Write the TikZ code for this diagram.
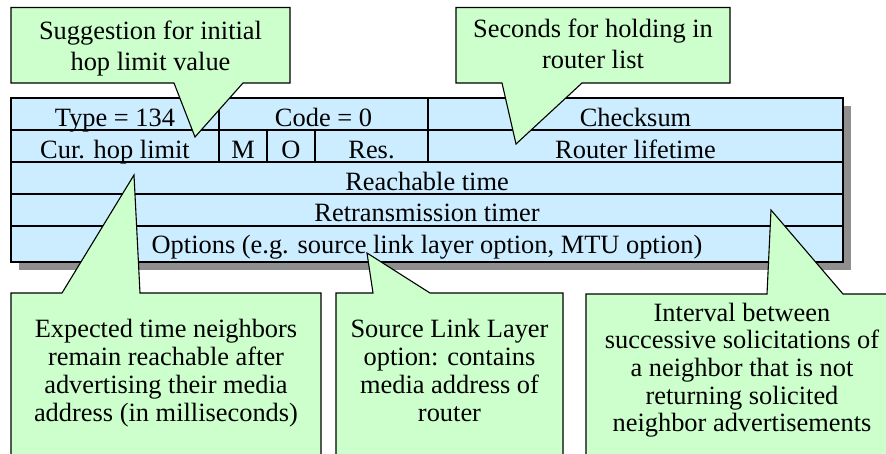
\documentclass[tikz,border=0pt]{standalone}
\usepackage{fontspec}
\setmainfont{Liberation Serif}
\definecolor{cellblue}{RGB}{204,236,255}
\definecolor{callgreen}{RGB}{204,255,204}
\definecolor{shadowgray}{RGB}{143,143,143}
\tikzset{
  cell/.style={fill=cellblue, draw=black, line width=1.1pt},
  callout/.style={fill=callgreen, draw=black, line width=1.1pt, line join=miter},
  celltext/.style={anchor=base, inner sep=0pt, font=\fontsize{26.4}{28}\selectfont},
  calltext/.style={anchor=north, inner sep=0pt, align=center},
}
\begin{document}
\begin{tikzpicture}[x=1pt,y=-1pt]
\useasboundingbox (0,0) rectangle (886,453);
\clip (0,0) rectangle (886,453);
% shadow
\fill[shadowgray] (19,106) rectangle (851,270);
% table
\draw[cell] (11,98) rectangle (843,262);
\draw[line width=1.1pt] (11,130) -- (843,130);
\draw[line width=1.1pt] (11,162) -- (843,162);
\draw[line width=1.1pt] (11,194) -- (843,194);
\draw[line width=1.1pt] (11,226) -- (843,226);
\draw[line width=1.1pt] (219,98) -- (219,162);
\draw[line width=1.1pt] (428,98) -- (428,162);
\draw[line width=1.1pt] (267,130) -- (267,162);
\draw[line width=1.1pt] (315,130) -- (315,162);
% cell texts
\node[celltext] (type) at (115,126.5) {Type = 134};
\node[celltext] (code) at (323.5,126.5) {Code = 0};
\node[celltext] (chk) at (635.5,126.5) {Checksum};
\node[celltext] (hop) at (115,158.3) {Cur. hop limit};
\node[celltext] (m) at (243,158.3) {M};
\node[celltext] (o) at (291,158.3) {O};
\node[celltext] (res) at (371.5,158.3) {Res.};
\node[celltext] (life) at (635.5,158.3) {Router lifetime};
\node[celltext] (reach) at (427,190) {Reachable time};
\node[celltext] (retr) at (427,221.7) {Retransmission timer};
\node[celltext] (opt) at (427,253.3) {Options (e.g. source link layer option, MTU option)};
% callouts
\draw[callout] (11,7.5) -- (290,7.5) -- (290,83) -- (243,83) -- (195,137) -- (174,83) -- (11,83) -- cycle;
\draw[callout] (456,7.5) -- (730,7.5) -- (730,83) -- (582,83) -- (516,144) -- (502,83) -- (456,83) -- cycle;
\draw[callout] (11,293) -- (62,293) -- (134,175) -- (140,293) -- (321,293) -- (321,470) -- (11,470) -- cycle;
\draw[callout] (336,293) -- (373,293) -- (367,253) -- (430,293) -- (563,293) -- (563,470) -- (336,470) -- cycle;
\draw[callout] (586,294) -- (767,294) -- (771,210) -- (843,294) -- (900,294) -- (900,470) -- (586,470) -- cycle;
% callout texts
\node[calltext, font=\fontsize{26.4}{31}\selectfont] (t1) at (150.5,17.3)
  {\strut Suggestion for initial\\hop limit value};
\node[calltext, font=\fontsize{26.4}{31}\selectfont] (t2) at (593,15.8)
  {\strut Seconds for holding in\\router list};
\node[calltext, font=\fontsize{26.4}{28}\selectfont] (t3) at (166,317.4)
  {\strut Expected time neighbors\\remain reachable after\\advertising their media\\address (in milliseconds)};
\node[calltext, font=\fontsize{26.4}{28}\selectfont] (t4) at (449.5,317.4)
  {\strut Source Link Layer\\option: contains\\media address of\\router};
\node[calltext, font=\fontsize{26.4}{27.6}\selectfont] (t5) at (742,301.7)
  {\strut Interval between\\successive solicitations of\\a neighbor that is not\\returning solicited\\neighbor advertisements};
\end{tikzpicture}
\end{document}
